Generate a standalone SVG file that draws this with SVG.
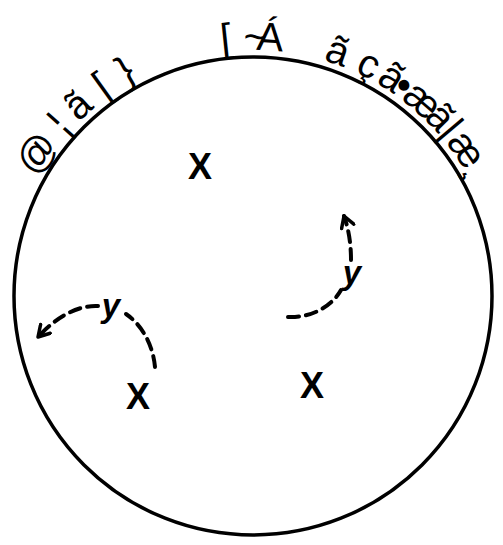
<svg xmlns="http://www.w3.org/2000/svg" width="503" height="545" viewBox="0 0 503 545">
<style>
.rim{font-family:"Liberation Sans",Arial,sans-serif;font-size:40px;fill:#000;text-anchor:middle}
.lx{font-family:"Liberation Sans",Arial,sans-serif;font-size:36px;font-weight:bold;fill:#000;text-anchor:middle}
.ly{font-family:"Liberation Sans",Arial,sans-serif;font-size:33px;font-weight:bold;font-style:italic;fill:#000;text-anchor:middle}
.dash{fill:none;stroke:#000;stroke-width:4;stroke-dasharray:11 7;stroke-linecap:round}
</style>
<defs>
<marker id="arr" viewBox="0 0 16 16" refX="13" refY="8" markerWidth="16" markerHeight="16" markerUnits="userSpaceOnUse" orient="auto">
<path d="M2,1.5 L13,8 L2,14.5" fill="none" stroke="#000" stroke-width="3.5" stroke-linecap="round" stroke-linejoin="round"/>
</marker>
</defs>
<rect width="503" height="545" fill="#fff"/>
<g id="circle">
<circle cx="253" cy="296" r="239" fill="none" stroke="#000" stroke-width="3.5"/>
</g>
<g id="rim-text">
<text class="rim" x="253" y="50" transform="rotate(-56.6 253 296)">@</text>
<text class="rim" x="253" y="50" transform="rotate(-48.4 253 296)">¦</text>
<text class="rim" x="253" y="50" transform="rotate(-42.5 253 296)">ã</text>
<text class="rim" x="253" y="50" transform="rotate(-35.7 253 296)">[</text>
<text class="rim" x="253" y="50" transform="rotate(-29.5 253 296)">}</text>
<text class="rim" x="253" y="50" transform="rotate(-6 253 296)">[</text>
<text class="rim" x="253" y="50" transform="rotate(0.5 253 296)">~</text>
<text class="rim" x="253" y="50" transform="rotate(3.8 253 296)">Á</text>
<text class="rim" x="253" y="50" transform="rotate(19.1 253 296)">ã</text>
<text class="rim" x="253" y="50" transform="rotate(26.6 253 296)">ç</text>
<text class="rim" x="253" y="50" transform="rotate(32.4 253 296)">ã</text>
<text class="rim" x="253" y="50" transform="rotate(35.6 253 296)">•</text>
<text class="rim" x="253" y="50" transform="rotate(40.9 253 296)">æ</text>
<text class="rim" x="253" y="50" transform="rotate(46.3 253 296)">ã</text>
<text class="rim" x="253" y="50" transform="rotate(49.9 253 296)">|</text>
<text class="rim" x="253" y="50" transform="rotate(55.5 253 296)">æ</text>
<text class="rim" x="253" y="50" transform="rotate(60.5 253 296)">¸</text>
</g>
<g id="node-x1"><text class="lx" x="200" y="179">X</text></g>
<g id="node-x2"><text class="lx" x="138" y="409">X</text></g>
<g id="node-x3"><text class="lx" x="312" y="398">X</text></g>
<g id="connectors">
<path class="dash" d="M155,367 C153,345 142,325 126,314"/>
<path class="dash" d="M98,306 C80,305 58,315 38,337" marker-end="url(#arr)"/>
<path class="dash" d="M288,317 C312,318 332,306 341,290"/>
<path class="dash" d="M351,260 C351,245 349,230 344,216" marker-end="url(#arr)"/>
</g>
<g id="labels">
<text class="ly" x="111" y="317">y</text>
<text class="ly" x="352" y="284">y</text>
</g>
</svg>
